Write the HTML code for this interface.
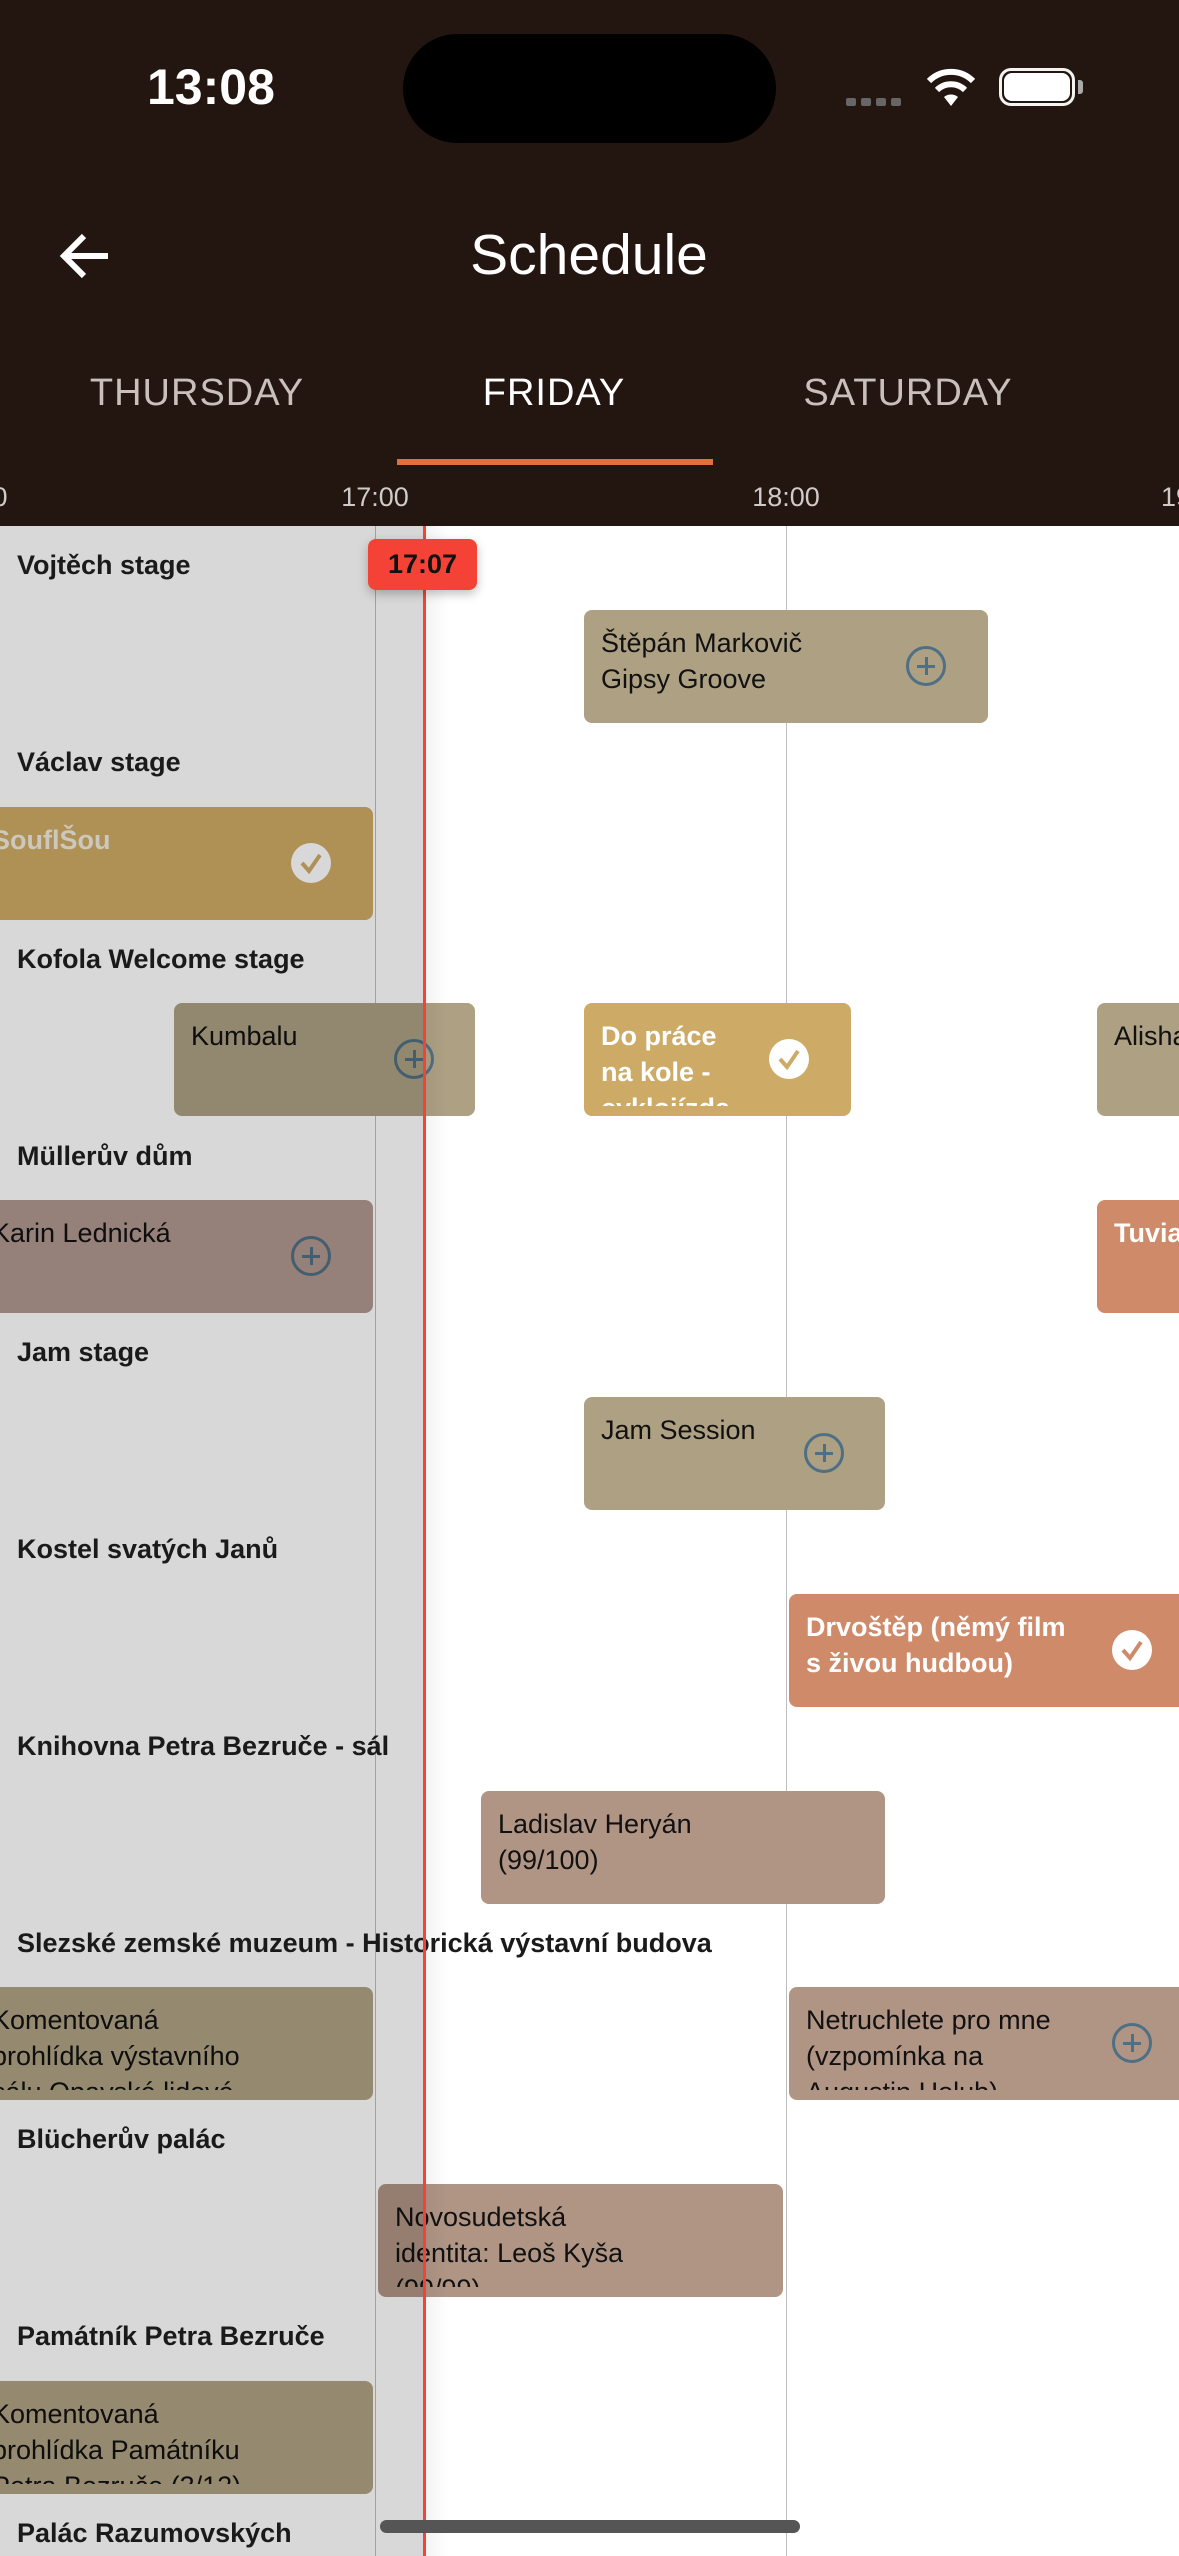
<!DOCTYPE html>
<html><head><meta charset="utf-8">
<style>
*{margin:0;padding:0;box-sizing:border-box}
body{width:1179px;height:2556px;overflow:hidden;background:#fff;position:relative;font-family:"Liberation Sans",sans-serif}
#w{position:absolute;left:0;top:0;width:1179px;height:2556px;overflow:hidden}
.a{position:absolute}
.hdr{left:0;top:0;width:1179px;height:526px;background:#23150f}
.tab{top:372px;font-size:38px;color:#c9c0bb;transform:translateX(-50%);letter-spacing:1px}
.tl{top:482px;font-size:27px;color:#d0cbc8;transform:translateX(-50%)}
.grid{top:526px;width:1px;height:2030px;background:#bdbdbd}
.lbl{left:17px;font-size:27px;font-weight:bold;color:#1a1a1a;z-index:5;white-space:nowrap}
.blk{height:113px;border-radius:8px;overflow:hidden}
.blk .t{position:absolute;left:17px;top:15px;height:88px;overflow:hidden;font-size:27px;line-height:36px;color:#111;white-space:nowrap}
.blk .t.w{color:#fff;font-weight:bold}
.ic{position:absolute;width:40px;height:40px;border-radius:50%;top:36px}
.plus{border:3px solid #4f6f84}
.plus:before{content:"";position:absolute;left:8px;top:15.5px;width:18px;height:3px;background:#4f6f84}
.plus:after{content:"";position:absolute;left:15.5px;top:8px;width:3px;height:18px;background:#4f6f84}
.chk{background:#fff}
.chk svg{position:absolute;left:0;top:0}
.r{border-radius:8px 0 0 8px}
.l{border-radius:0 8px 8px 0}
</style></head><body><div id="w">
<div class="a hdr"></div>
<div class="a" style="left:147px;top:58px;font-size:50px;font-weight:bold;color:#fff">13:08</div>
<div class="a" style="left:403px;top:34px;width:373px;height:109px;background:#000;border-radius:55px"></div>
<div class="a" style="left:846px;top:98px;width:60px;height:8px;display:flex;gap:5px"><span style="width:10px;height:8px;background:#666;border-radius:2px"></span><span style="width:10px;height:8px;background:#666;border-radius:2px"></span><span style="width:10px;height:8px;background:#666;border-radius:2px"></span><span style="width:10px;height:8px;background:#666;border-radius:2px"></span></div>
<svg class="a" style="left:924px;top:66px" width="54" height="42" viewBox="0 0 54 42"><path d="M27 40 L20 31 A11 11 0 0 1 34 31 Z" fill="#fff"/><path d="M13 24 A20 20 0 0 1 41 24" stroke="#fff" stroke-width="6" fill="none"/><path d="M5 15 A31 31 0 0 1 49 15" stroke="#fff" stroke-width="6" fill="none"/></svg>
<div class="a" style="left:999px;top:68px;width:76px;height:38px;border:3px solid #fff;border-radius:12px;opacity:.95"></div>
<div class="a" style="left:1004px;top:73px;width:66px;height:28px;background:#fff;border-radius:8px"></div>
<div class="a" style="left:1078px;top:80px;width:5px;height:14px;background:#aaa;border-radius:0 3px 3px 0"></div>
<svg class="a" style="left:58px;top:232px" width="54" height="48" viewBox="0 0 54 48"><path d="M50 24 H6 M26 4 L6 24 L26 44" stroke="#fff" stroke-width="6" fill="none"/></svg>
<div class="a" style="left:589px;top:222px;transform:translateX(-50%);font-size:57px;color:#fff">Schedule</div>
<div class="a tab" style="left:197px">THURSDAY</div>
<div class="a tab" style="left:554px;color:#fff">FRIDAY</div>
<div class="a tab" style="left:908px">SATURDAY</div>
<div class="a" style="left:397px;top:459px;width:316px;height:6px;background:#e0703c"></div>
<div class="a tl" style="left:375px">17:00</div>
<div class="a tl" style="left:786px">18:00</div>
<div class="a" style="left:1161px;top:482px;font-size:27px;color:#d0cbc8">19:00</div>
<div class="a" style="left:-60px;top:482px;font-size:27px;color:#d0cbc8">16:00</div>
<div class="a grid" style="left:375px"></div>
<div class="a grid" style="left:786px"></div>

<div class="a blk" style="left:584px;top:610px;width:404px;background:#ada083"><div class="t">Štěpán Markovič<br>Gipsy Groove</div><div class="ic plus" style="left:322px"></div></div>
<div class="a blk l" style="left:0;top:807px;width:373px;background:#cfab65"><div class="t w" style="left:-8px;color:#f1ece0">SouflŠou</div><div class="ic chk" style="left:291px"><svg width="40" height="40"><path d="M11 20 L18 28 L29 12" stroke="#cfab65" stroke-width="4" fill="none"/></svg></div></div>
<div class="a blk" style="left:174px;top:1003px;width:301px;background:#ada083"><div class="t">Kumbalu</div><div class="ic plus" style="left:220px"></div></div>
<div class="a blk" style="left:584px;top:1003px;width:267px;background:#cdab67"><div class="t w">Do práce<br>na kole -<br>cyklojízda</div><div class="ic chk" style="left:185px"><svg width="40" height="40"><path d="M11 20 L18 28 L29 12" stroke="#cdab67" stroke-width="4" fill="none"/></svg></div></div>
<div class="a blk r" style="left:1097px;top:1003px;width:82px;background:#ada083"><div class="t">Alisha</div></div>
<div class="a blk l" style="left:0;top:1200px;width:373px;background:#b29890"><div class="t" style="left:-8px">Karin Lednická</div><div class="ic plus" style="left:291px"></div></div>
<div class="a blk r" style="left:1097px;top:1200px;width:82px;background:#cf8a6a"><div class="t w">Tuvia</div></div>
<div class="a blk" style="left:584px;top:1397px;width:301px;background:#ada083"><div class="t">Jam Session</div><div class="ic plus" style="left:220px"></div></div>
<div class="a blk r" style="left:789px;top:1594px;width:390px;background:#cf8a6a"><div class="t w">Drvoštěp (němý film<br>s živou hudbou)</div><div class="ic chk" style="left:323px"><svg width="40" height="40"><path d="M11 20 L18 28 L29 12" stroke="#cf8a6a" stroke-width="4" fill="none"/></svg></div></div>
<div class="a blk" style="left:481px;top:1791px;width:404px;background:#b09585"><div class="t">Ladislav Heryán<br>(99/100)</div></div>
<div class="a blk l" style="left:0;top:1987px;width:373px;background:#b0a385"><div class="t" style="left:-8px">Komentovaná<br>prohlídka výstavního<br>sálu Opavské lidové</div></div>
<div class="a blk r" style="left:789px;top:1987px;width:390px;background:#b09585"><div class="t">Netruchlete pro mne<br>(vzpomínka na<br>Augustin Holub)</div><div class="ic plus" style="left:323px"></div></div>
<div class="a blk" style="left:378px;top:2184px;width:405px;background:#b09585"><div class="t">Novosudetská<br>identita: Leoš Kyša<br>(99/99)</div></div>
<div class="a blk l" style="left:0;top:2381px;width:373px;background:#b0a385"><div class="t" style="left:-8px">Komentovaná<br>prohlídka Památníku<br>Petra Bezruče (3/12)</div></div>

<div class="a" style="left:0;top:526px;width:424px;height:2030px;background:rgba(0,0,0,0.153);z-index:3"></div>
<div class="a" style="left:424px;top:526px;width:24px;height:2030px;background:linear-gradient(to right,rgba(0,0,0,0.05),rgba(0,0,0,0));z-index:3"></div>

<div class="a lbl" style="top:550px">Vojtěch stage</div>
<div class="a lbl" style="top:747px">Václav stage</div>
<div class="a lbl" style="top:944px">Kofola Welcome stage</div>
<div class="a lbl" style="top:1141px">Müllerův dům</div>
<div class="a lbl" style="top:1337px">Jam stage</div>
<div class="a lbl" style="top:1534px">Kostel svatých Janů</div>
<div class="a lbl" style="top:1731px">Knihovna Petra Bezruče - sál</div>
<div class="a lbl" style="top:1928px">Slezské zemské muzeum - Historická výstavní budova</div>
<div class="a lbl" style="top:2124px">Blücherův palác</div>
<div class="a lbl" style="top:2321px">Památník Petra Bezruče</div>
<div class="a lbl" style="top:2518px">Palác Razumovských</div>

<div class="a" style="left:423px;top:526px;width:3px;height:2030px;background:#f44336;z-index:6"></div>
<div class="a" style="left:368px;top:539px;width:109px;height:51px;background:#f44336;border-radius:8px;z-index:7;box-shadow:0 4px 10px rgba(0,0,0,.25);font-size:27px;font-weight:bold;color:#111;text-align:center;line-height:51px">17:07</div>
<div class="a" style="left:380px;top:2520px;width:420px;height:13px;background:#555;border-radius:7px;z-index:8"></div>
</div></body></html>
